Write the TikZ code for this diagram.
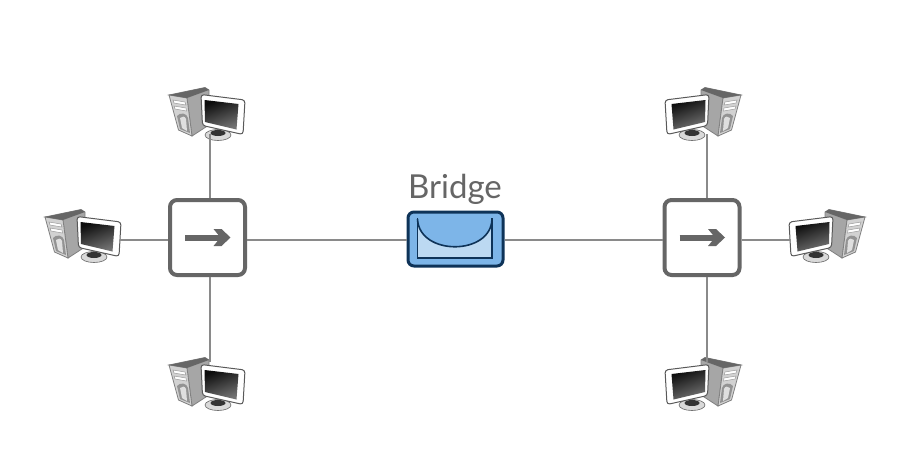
\documentclass[tikz,border=0pt]{standalone}
\usepackage{fontspec}
\setmainfont{Lato}
\definecolor{linkgray}{HTML}{8A8A8A}
\definecolor{boxgray}{HTML}{666666}
\definecolor{bridgedark}{HTML}{0E3358}
\definecolor{bridgemid}{HTML}{7DB5E8}
\definecolor{bridgelight}{HTML}{BCD9F2}
\tikzset{
  link/.style={draw=linkgray,line width=1.5pt},
  switchbox/.style={draw=boxgray,fill=white,line width=4pt,rounded corners=7pt,minimum width=75pt,minimum height=75pt,inner sep=0pt},
  bridgebox/.style={draw=bridgedark,fill=bridgemid,line width=3pt,rounded corners=6pt,minimum width=95pt,minimum height=54pt,inner sep=0pt},
  endpoint/.style={inner sep=0pt,minimum size=0pt},
  pics/computer/.style={code={
    % base and stand
    \fill[draw=black!60,line width=.6pt,fill=gray!30] (8,22) ellipse (13 and 5.5);
    \fill[black!80] (8,20) ellipse (7.5 and 3);
    % tower
    \fill[draw=black!50,line width=.8pt,fill=gray!70] (-41,-18) -- (-5,-25.5) -- (-1,-23) -- (-1,12) -- (-18,23) -- (-23,-15) -- cycle;
    \fill[draw=black!50,line width=.8pt,fill=gray!35] (-23,-15) -- (-18,23) -- (-31.5,17) -- (-41,-18) -- cycle;
    \fill[black!60] (-41,-18) -- (-5,-25.5) -- (-1,-23) -- (-23,-15) -- cycle;
    \fill[draw=gray!80,line width=.5pt,fill=white] (-37,-13) -- (-25,-11) -- (-24,-8) -- (-36,-10) -- cycle;
    \fill[draw=gray!80,line width=.5pt,fill=white] (-36,-7) -- (-24,-5) -- (-23.5,-2) -- (-35,-4) -- cycle;
    \fill[gray!85] (-33,3) .. controls (-30,-1) and (-23,0) .. (-22,5) -- (-20,20) -- (-30,16) -- cycle;
    \fill[gray!25] (-30,5) .. controls (-28,3) and (-25,3) .. (-24,6) -- (-23,18) -- (-28,15) -- cycle;
    % monitor
    \fill[draw=black!65,line width=1pt,fill=white,rounded corners=3pt] (-9,-18.5) -- (35,-13) -- (33,21.5) -- (-7.5,12.5) -- cycle;
    \shade[left color=black!95,right color=black!55,shading angle=20] (-5.5,-13) -- (28.5,-9) -- (26.5,16.5) -- (-5,9) -- cycle;
  }}
}
\begin{document}
\begin{tikzpicture}[x=1pt,y=-1pt]
\useasboundingbox (0,0) rectangle (920,456);
\fill[white] (0,0) rectangle (920,456);
% computers
\pic at (210,113) {computer};
\pic at (86,235) {computer};
\pic at (210,383) {computer};
\pic[xscale=-1] at (700,113) {computer};
\pic[xscale=-1] at (824,235) {computer};
\pic[xscale=-1] at (700,383) {computer};
% connection points of the computers
\node[endpoint] (pcTL) at (210,134) {};
\node[endpoint] (pcL) at (120,240) {};
\node[endpoint] (pcBL) at (210,362) {};
\node[endpoint] (pcTR) at (707,134) {};
\node[endpoint] (pcR) at (790,240) {};
\node[endpoint] (pcBR) at (707,362) {};
% devices
\node[switchbox] (swL) at (207.5,237.5) {};
\node[switchbox] (swR) at (702,237.5) {};
\node[bridgebox] (bridge) at (455.5,239) {};
\node[font=\fontsize{33}{36}\selectfont,text=boxgray] (bridgelabel) at (455,189) {Bridge};
% connectors
\draw[link] (pcTL) -- (pcTL |- swL.north);
\draw[link] (pcBL) -- (pcBL |- swL.south);
\draw[link] (pcL) -- (pcL -| swL.west);
\draw[link] (pcTR) -- (pcTR |- swR.north);
\draw[link] (pcBR) -- (pcBR |- swR.south);
\draw[link] (pcR) -- (pcR -| swR.east);
\draw[link] (swL.east |- pcL) -- (bridge.west |- pcL);
\draw[link] (bridge.east |- pcR) -- (swR.west |- pcR);
% switch arrows
\foreach \c in {swL,swR}{
  \draw[boxgray,line width=6pt] ([xshift=-22.5pt]\c.center) -- ++(36,0);
  \fill[boxgray] ([xshift=6pt,yshift=-8.5pt]\c.center) -- ([xshift=14pt,yshift=-8.5pt]\c.center) -- ([xshift=23pt]\c.center) -- ([xshift=14pt,yshift=8.5pt]\c.center) -- ([xshift=6pt,yshift=8.5pt]\c.center) -- ([xshift=13pt]\c.center) -- cycle;
}
% bridge symbol
\fill[bridgelight] (417.5,219) .. controls (419,256) and (491,256) .. (492,219) -- (492,258) -- (417.5,258) -- cycle;
\draw[bridgedark,line width=1.6pt] (417.5,218) -- (417.5,258) -- (492,258) -- (492,218);
\draw[bridgedark,line width=1.6pt] (417.5,219) .. controls (419,256) and (491,256) .. (492,219);
\end{tikzpicture}
\end{document}
